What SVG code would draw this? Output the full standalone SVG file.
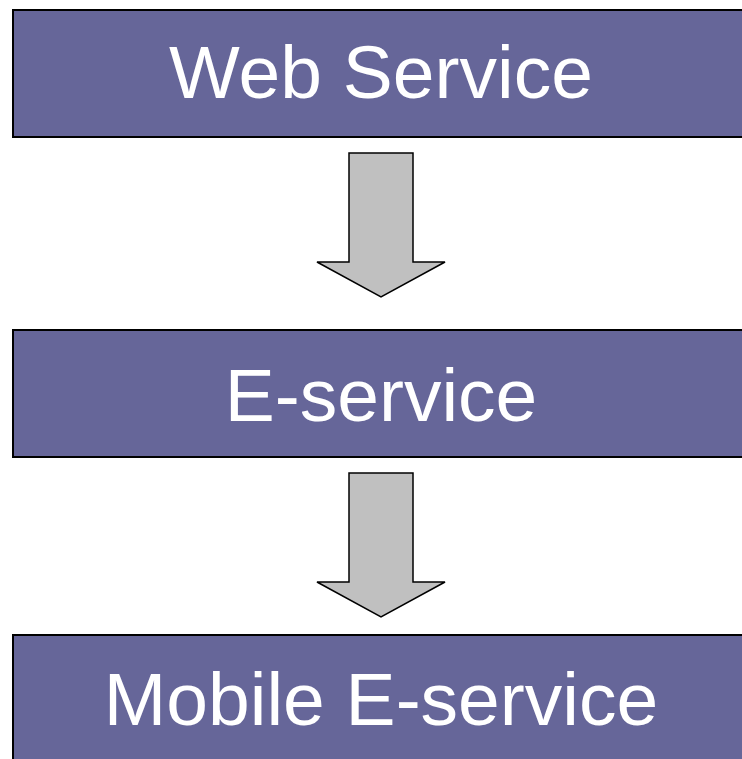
<svg xmlns="http://www.w3.org/2000/svg" width="742" height="759" viewBox="0 0 742 759">
  <style>
    .box { fill: #666699; stroke: #000000; stroke-width: 2; }
    .label { fill: #ffffff; font-family: "Liberation Sans", Arial, sans-serif; font-size: 75px; text-anchor: middle; }
    .arrow { fill: #c0c0c0; stroke: #000000; stroke-width: 1.5; stroke-linejoin: miter; }
  </style>
  <rect width="742" height="759" fill="#ffffff"/>
  <g id="web-service">
    <rect class="box" x="13" y="10" width="740" height="127"/>
    <text class="label" x="381" y="98">Web Service</text>
  </g>
  <g id="e-service">
    <rect class="box" x="13" y="330" width="740" height="127"/>
    <text class="label" x="381" y="421">E-service</text>
  </g>
  <g id="mobile-e-service">
    <rect class="box" x="13" y="635" width="740" height="140"/>
    <text class="label" x="381" y="725">Mobile E-service</text>
  </g>
  <g id="connectors">
    <polygon class="arrow" points="349,153 413,153 413,262 445,262 381,297 317,262 349,262"/>
    <polygon class="arrow" points="349,473 413,473 413,582 445,582 381,617 317,582 349,582"/>
  </g>
</svg>
